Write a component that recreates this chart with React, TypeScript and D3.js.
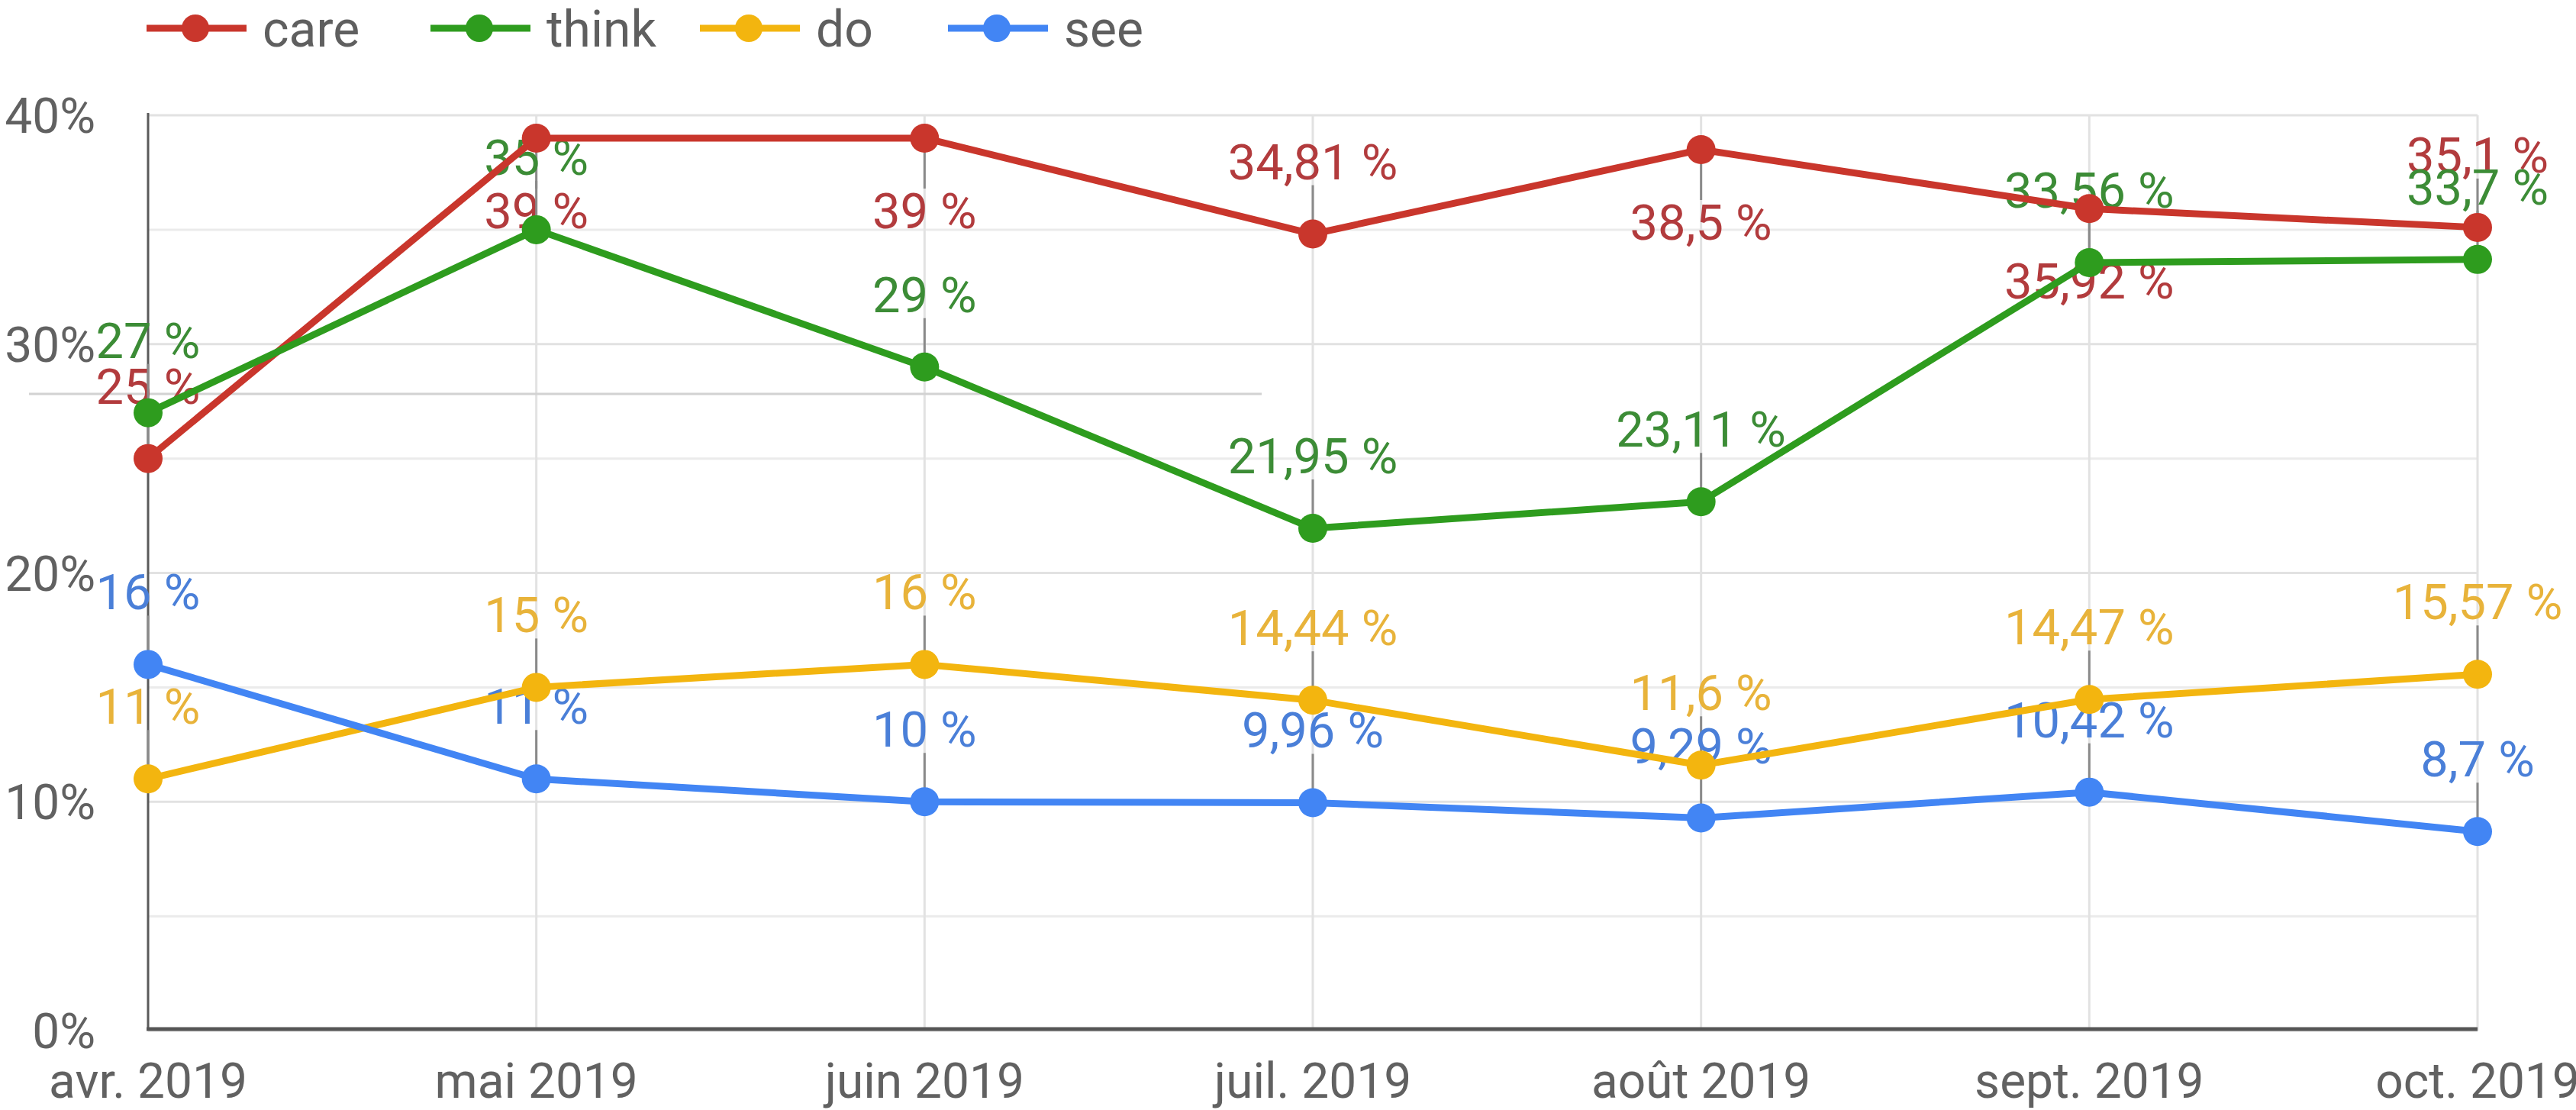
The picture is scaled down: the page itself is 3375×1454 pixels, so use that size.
import React from "react";
import * as d3 from "d3";

const months = ["avr. 2019", "mai 2019", "juin 2019", "juil. 2019", "août 2019", "sept. 2019", "oct. 2019"];
const care = [25, 39, 39, 34.81, 38.5, 35.92, 35.1];
const think = [27, 35, 29, 21.95, 23.11, 33.56, 33.7];
const doVals = [11, 15, 16, 14.44, 11.6, 14.47, 15.57];
const see = [16, 11, 10, 9.96, 9.29, 10.42, 8.7];
const careLabelSide = ["above", "below", "below", "above", "below", "below", "above"];
const yTicks = [0, 10, 20, 30, 40];
const yMinorTicks = [5, 15, 25, 35];

const seriesNames = ["care", "think", "do", "see"];
const lineColors = ["#c9362c", "#2e9c1e", "#f3b50f", "#4285f4"];
const labelColors = ["#b23b3d", "#3c8c36", "#e8b33a", "#4a7fd8"];

const W = 3375;
const H = 1454;
const FONT = "Roboto, 'Noto Sans', sans-serif";

export default function App() {
  const x = d3.scalePoint<string>().domain(months).range([194, 3246]);
  const y = d3.scaleLinear().domain([0, 40]).range([1350, 151]);
  const fmt = (v: number) => String(v).replace(".", ",") + " %";

  const data = [care, think, doVals, see];
  const sides = [careLabelSide, months.map(() => "above"), months.map(() => "above"), months.map(() => "above")];
  const line = d3
    .line<number>()
    .x((_, i) => x(months[i]) as number)
    .y((v) => y(v));

  const legendX = [192, 564, 917, 1242];

  return (
    <svg
      width={W}
      height={H}
      style={{ position: "fixed", left: 0, top: 0, background: "#fff" }}
      fontFamily={FONT}
    >
      <rect x={0} y={0} width={W} height={H} fill="#fff" />
      {yMinorTicks.map((t) => (
        <line key={"m" + t} x1={194} x2={3246} y1={y(t)} y2={y(t)} stroke="#ebebeb" strokeWidth={3} />
      ))}
      {yTicks.map((t) => (
        <line key={"g" + t} x1={194} x2={3246} y1={y(t)} y2={y(t)} stroke="#e2e2e2" strokeWidth={3} />
      ))}
      {months.map((m, i) =>
        i === 0 ? null : (
          <line key={"v" + m} x1={x(m)} x2={x(m)} y1={y(40)} y2={y(0)} stroke="#e2e2e2" strokeWidth={3} />
        )
      )}
      <line x1={38} x2={1653} y1={516} y2={516} stroke="#d2d2d2" strokeWidth={3} />
      <line x1={194} x2={194} y1={148} y2={1350} stroke="#5a5a5a" strokeWidth={3} />
      <line x1={192} x2={3246} y1={1348} y2={1348} stroke="#555" strokeWidth={5} />
      {yTicks.map((t) => (
        <text key={"yl" + t} x={125} y={y(t)} dy="0.36em" textAnchor="end" fontSize={64} fill="#616161">
          {t + "%"}
        </text>
      ))}
      {months.map((m) => (
        <text key={"xl" + m} x={x(m)} y={1438} textAnchor="middle" fontSize={64} fill="#616161">
          {m}
        </text>
      ))}
      {data.map((vals, s) =>
        vals.map((v, i) => {
          const px = x(months[i]) as number;
          const py = y(v);
          const above = sides[s][i] === "above";
          return (
            <g key={"lab" + s + "-" + i}>
              <line x1={px} x2={px} y1={py} y2={above ? py - 64 : py + 66} stroke="#8a8a8a" strokeWidth={3} />
              <text
                x={px}
                y={above ? py - 72 : py + 118}
                textAnchor="middle"
                fontSize={65}
                fill={labelColors[s]}
              >
                {fmt(v)}
              </text>
            </g>
          );
        })
      )}
      {data.map((vals, s) => (
        <path key={"ln" + s} d={line(vals) || ""} fill="none" stroke={lineColors[s]} strokeWidth={9} strokeLinejoin="round" />
      ))}
      {data.map((vals, s) =>
        vals.map((v, i) => (
          <circle key={"pt" + s + "-" + i} cx={x(months[i]) as number} cy={y(v)} r={19} fill={lineColors[s]} />
        ))
      )}
      {seriesNames.map((n, s) => (
        <g key={"lg" + n}>
          <line x1={legendX[s]} x2={legendX[s] + 131} y1={37} y2={37} stroke={lineColors[s]} strokeWidth={9} />
          <circle cx={legendX[s] + 64} cy={37} r={18} fill={lineColors[s]} />
          <text x={legendX[s] + 152} y={37} dy="0.36em" fontSize={66} fill="#5f5f5f">
            {n}
          </text>
        </g>
      ))}
    </svg>
  );
}
